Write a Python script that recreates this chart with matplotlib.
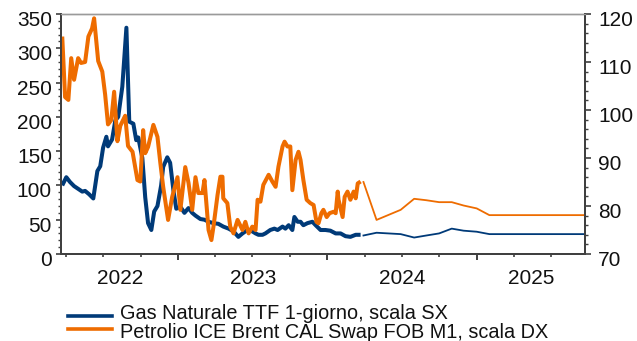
import matplotlib
matplotlib.use('Agg')
import matplotlib.pyplot as plt
import matplotlib.dates as mdates
from matplotlib.ticker import MultipleLocator, NullFormatter
from matplotlib.transforms import ScaledTranslation
from matplotlib.lines import Line2D
import pandas as pd

plt.rcParams['font.family'] = ['Liberation Sans', 'DejaVu Sans']

# ---------------- data ----------------
gas_dates = [
    '2022-03-23', '2022-04-02', '2022-04-11', '2022-04-21', '2022-05-01', '2022-05-11',
    '2022-05-18', '2022-05-28', '2022-06-07', '2022-06-17', '2022-06-24', '2022-07-01',
    '2022-07-09', '2022-07-13', '2022-07-23', '2022-07-31', '2022-08-07', '2022-08-17',
    '2022-08-27', '2022-09-03', '2022-09-13', '2022-09-20', '2022-09-25', '2022-10-05',
    '2022-10-12', '2022-10-19', '2022-10-27', '2022-11-03', '2022-11-11', '2022-11-20',
    '2022-11-25', '2022-12-05', '2022-12-12', '2022-12-20', '2022-12-27', '2023-01-06',
    '2023-01-16', '2023-01-26', '2023-02-04', '2023-02-12', '2023-02-24', '2023-03-06',
    '2023-03-16', '2023-03-28', '2023-04-09', '2023-04-21', '2023-05-04', '2023-05-16',
    '2023-05-28', '2023-06-07', '2023-06-19', '2023-07-01', '2023-07-09', '2023-07-16',
    '2023-07-26', '2023-08-02', '2023-08-14', '2023-08-24', '2023-09-01', '2023-09-13',
    '2023-09-20', '2023-09-28', '2023-10-07', '2023-10-12', '2023-10-20', '2023-10-27',
    '2023-11-03', '2023-11-13', '2023-11-25', '2023-12-03', '2023-12-15', '2023-12-27',
    '2024-01-08', '2024-01-21', '2024-02-02', '2024-02-14', '2024-02-26', '2024-03-10',
    '2024-03-22',
]
gas_values = [
    100, 112, 105, 99, 95, 91,
    92, 87, 81, 121, 128, 155,
    171, 157, 167, 195, 200, 244,
    330, 193, 190, 166, 170, 140,
    83, 45, 35, 62, 70, 100,
    127, 141, 133, 93, 66, 69,
    60, 67, 60, 56, 51, 50,
    47, 45, 44, 40, 37, 33,
    25, 30, 35, 33, 30, 28,
    28, 30, 35, 37, 35, 40,
    37, 42, 35, 54, 47, 47,
    42, 45, 47, 42, 35, 35,
    34, 30, 30, 26, 25, 28,
    28,
]

brent_dates = [
    '2022-03-23', '2022-03-30', '2022-04-07', '2022-04-14', '2022-04-21', '2022-05-01',
    '2022-05-08', '2022-05-18', '2022-05-26', '2022-06-04', '2022-06-09', '2022-06-19',
    '2022-06-29', '2022-07-06', '2022-07-13', '2022-07-21', '2022-07-28', '2022-08-05',
    '2022-08-12', '2022-08-24', '2022-08-31', '2022-09-11', '2022-09-23', '2022-09-30',
    '2022-10-07', '2022-10-12', '2022-10-19', '2022-11-01', '2022-11-11', '2022-11-18',
    '2022-11-25', '2022-12-07', '2022-12-17', '2022-12-30', '2023-01-06', '2023-01-18',
    '2023-01-26', '2023-02-04', '2023-02-12', '2023-02-19', '2023-03-01', '2023-03-06',
    '2023-03-16', '2023-03-23', '2023-03-28', '2023-04-07', '2023-04-14', '2023-04-19',
    '2023-04-21', '2023-05-01', '2023-05-08', '2023-05-16', '2023-05-26', '2023-06-07',
    '2023-06-14', '2023-06-22', '2023-07-01', '2023-07-09', '2023-07-14', '2023-07-21',
    '2023-07-28', '2023-08-10', '2023-08-19', '2023-08-27', '2023-09-03', '2023-09-13',
    '2023-09-18', '2023-09-25', '2023-10-02', '2023-10-07', '2023-10-15', '2023-10-22',
    '2023-10-27', '2023-11-03', '2023-11-11', '2023-11-20', '2023-11-28', '2023-12-05',
    '2023-12-10', '2023-12-17', '2023-12-22', '2023-12-30', '2024-01-06', '2024-01-16',
    '2024-01-21', '2024-01-26', '2024-01-28', '2024-02-07', '2024-02-12', '2024-02-19',
    '2024-02-26', '2024-03-05', '2024-03-10', '2024-03-15', '2024-03-22',
]
brent_values = [
    115.3, 102.7, 102.1, 110.8, 106.3, 110.8,
    109.8, 110.0, 115.3, 117.0, 119.1, 110.2,
    108.0, 103.2, 97.0, 97.9, 103.8, 93.5,
    96.7, 98.8, 92.5, 91.3, 85.4, 85.1,
    95.8, 91.0, 92.3, 96.9, 94.4, 89.0,
    84.0, 77.1, 81.9, 86.0, 79.2, 88.1,
    84.8, 79.2, 86.0, 82.7, 82.7, 85.4,
    75.0, 72.9, 75.7, 82.3, 86.1, 86.1,
    81.6, 80.6, 75.7, 74.3, 77.1, 75.0,
    76.7, 74.3, 75.7, 75.0, 81.3, 80.9,
    84.4, 86.5, 85.1, 84.0, 88.2, 92.4,
    93.4, 92.4, 92.4, 83.3, 89.6, 91.3,
    89.6, 85.4, 81.3, 80.6, 80.2, 76.7,
    76.4, 78.5, 79.2, 77.7, 78.5, 78.8,
    78.5, 83.0, 81.3, 77.7, 81.9, 83.0,
    81.3, 83.0, 81.6, 84.7, 85.1,
]

fc_dates = ['2024-03-29', '2024-04-30', '2024-06-28', '2024-07-31', '2024-08-30',
            '2024-09-30', '2024-10-31', '2024-11-29', '2024-12-31', '2025-01-31',
            '2025-09-30']
gas_fc = [27, 31, 29, 24, 27, 30, 37, 34, 32.5, 29, 29]
brent_fc = [85.0, 77.1, 79.2, 81.5, 81.2, 80.8, 80.8, 80.1, 79.5, 78.1, 78.1]

years = ['2022', '2023', '2024', '2025']
legend_labels = ['Gas Naturale TTF 1-giorno, scala SX',
                 'Petrolio ICE Brent CAL Swap FOB M1, scala DX']

BLUE = '#003A78'
ORANGE = '#EE6C00'
SPINE = '#404040'
TEXT = '#111111'

x_start = pd.Timestamp('2022-03-20')
x_end = pd.Timestamp('2025-09-22')

# ---------------- figure ----------------
W, H = 637, 341
fig = plt.figure(figsize=(W / 100, H / 100), dpi=100)
ax = fig.add_axes([61 / W, 1 - 254 / H, (585 - 61) / W, (254 - 14) / H])
ax2 = ax.twinx()

ax.plot(pd.to_datetime(gas_dates), gas_values, color=BLUE, lw=2.9, solid_capstyle='butt')
ax.plot(pd.to_datetime(fc_dates), gas_fc, color=BLUE, lw=1.3)
ax2.plot(pd.to_datetime(brent_dates), brent_values, color=ORANGE, lw=2.9, solid_capstyle='butt')
ax2.plot(pd.to_datetime(fc_dates), brent_fc, color=ORANGE, lw=1.3)

ax.set_xlim(x_start, x_end)
ax.set_ylim(0, 350)
ax2.set_ylim(70, 120)

# y axes
ax.set_yticks(range(0, 351, 50))
ax.yaxis.set_minor_locator(MultipleLocator(10))
ax2.set_yticks(range(70, 121, 10))
ax2.yaxis.set_minor_locator(MultipleLocator(2))

# x axis
ax.xaxis.set_major_locator(mdates.YearLocator())
ax.xaxis.set_minor_locator(mdates.MonthLocator(bymonth=[1, 4, 7, 10]))
ax.xaxis.set_major_formatter(NullFormatter())
ax.xaxis.set_minor_formatter(NullFormatter())

for a in (ax, ax2):
    for s in ('left', 'right', 'bottom'):
        a.spines[s].set_color(SPINE)
        a.spines[s].set_linewidth(1.4)
    a.spines['top'].set_color('#9a9a9a')
    a.spines['top'].set_linewidth(1.0)

ax.tick_params(axis='y', which='major', direction='out', length=3.5, width=1.2,
               color=SPINE, labelsize=15, pad=3, labelcolor=TEXT)
ax.tick_params(axis='y', which='minor', direction='out', length=2, width=1.0, color=SPINE)
ax2.tick_params(axis='y', which='major', direction='out', length=4.5, width=1.2,
                color=SPINE, labelsize=15, pad=5, labelcolor=TEXT)
ax2.tick_params(axis='y', which='minor', direction='out', length=2.2, width=1.0, color=SPINE)
ax.tick_params(axis='x', which='major', direction='out', length=4, width=1.4, color=SPINE)
ax.tick_params(axis='x', which='minor', direction='out', length=2, width=1.2, color=SPINE)

# year labels centred on the visible part of each year
xs_num = mdates.date2num(x_start)
xe_num = mdates.date2num(x_end)
mids = []
for y in years:
    a0 = max(mdates.date2num(pd.Timestamp(f'{y}-01-01')), xs_num)
    a1 = min(mdates.date2num(pd.Timestamp(f'{int(y) + 1}-01-01')), xe_num)
    mids.append((a0 + a1) / 2)
sec = ax.secondary_xaxis('bottom')
sec.set_xticks(mids, labels=years)
sec.tick_params(axis='x', length=0, pad=11, labelsize=15, labelcolor=TEXT)
sec.spines['bottom'].set_visible(False)

# shift y tick labels slightly down, like the reference
off = ScaledTranslation(0, -4.5 / 100, fig.dpi_scale_trans)
for lab in ax.get_yticklabels() + ax2.get_yticklabels():
    lab.set_transform(lab.get_transform() + off)

# legend (below the plot)
rows = [(316, 319, BLUE), (329, 338, ORANGE)]
for (ly, ty, col), lab in zip(rows, legend_labels):
    fig.add_artist(Line2D([68 / W, 112 / W], [1 - ly / H, 1 - ly / H],
                          transform=fig.transFigure, color=col, lw=2.6))
    fig.text(120 / W, 1 - ty / H, lab, fontsize=14.3, va='baseline', ha='left',
             color=TEXT)

fig.savefig('out.png', dpi=100)
